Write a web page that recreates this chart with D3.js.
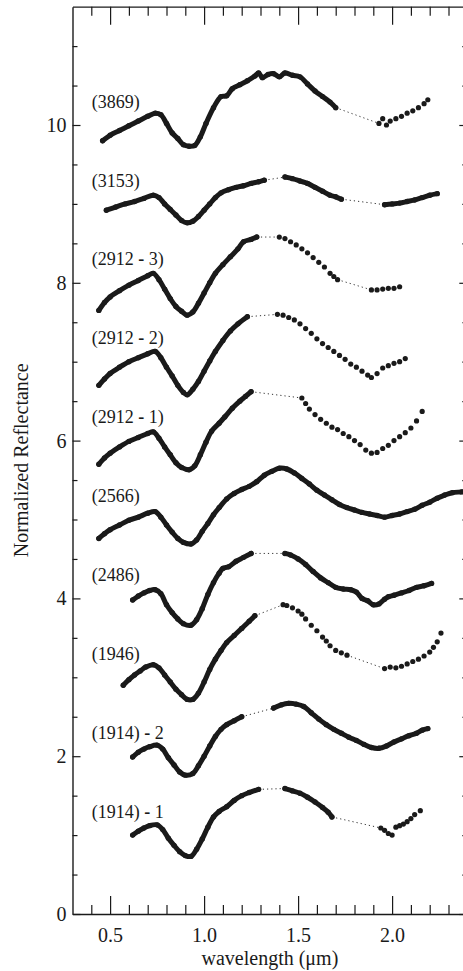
<!DOCTYPE html>
<html><head><meta charset="utf-8">
<script src="https://cdn.jsdelivr.net/npm/d3@7"></script>
<style>body{margin:0;background:#fff} svg{display:block}</style>
</head><body><svg id="c" width="463" height="971"></svg>
<script>
// ---- data ----
const seriesLabels = ["(3869)","(3153)","(2912 - 3)","(2912 - 2)","(2912 - 1)","(2566)","(2486)","(1946)","(1914) - 2","(1914) - 1"];
const offsets = [10,9,8,7,6,5,4,3,2,1];
const xMajorTicks = [0.5,1.0,1.5,2.0];
const xTickLabels = ["0.5","1.0","1.5","2.0"];
const yMajorTicks = [0,2,4,6,8,10];
const yTickLabels = ["0","2","4","6","8","10"];

const s3869 = [
 [[0.46,9.80],[0.50,9.87],[0.55,9.93],[0.60,9.99],[0.65,10.05],[0.70,10.11],[0.74,10.15],[0.77,10.13],[0.80,10.02],[0.83,9.90],[0.86,9.83],[0.89,9.75],[0.92,9.73],[0.95,9.74],[0.98,9.85],[1.01,10.02],[1.05,10.22],[1.09,10.36],[1.12,10.37],[1.15,10.46],[1.19,10.51],[1.23,10.56],[1.27,10.62],[1.29,10.66],[1.31,10.60],[1.34,10.64],[1.37,10.65],[1.40,10.61],[1.43,10.66],[1.47,10.63],[1.51,10.61],[1.55,10.52],[1.59,10.43],[1.63,10.36],[1.67,10.29],[1.70,10.22]],
 [[1.93,10.02],[1.95,10.08],[1.97,10.00],[1.99,10.05],[2.02,10.08],[2.05,10.11],[2.08,10.15],[2.11,10.18],[2.14,10.22],[2.17,10.27],[2.19,10.32]]
];
const s3153 = [
 [[0.48,8.92],[0.53,8.96],[0.58,9.00],[0.63,9.03],[0.68,9.07],[0.73,9.11],[0.76,9.08],[0.79,9.00],[0.82,8.93],[0.85,8.86],[0.88,8.79],[0.91,8.76],[0.94,8.78],[0.97,8.84],[1.00,8.92],[1.03,9.00],[1.06,9.08],[1.09,9.14],[1.13,9.18],[1.17,9.21],[1.21,9.23],[1.25,9.26],[1.29,9.28],[1.32,9.30]],
 [[1.43,9.34],[1.47,9.32],[1.51,9.29],[1.55,9.26],[1.59,9.21],[1.63,9.16],[1.67,9.11],[1.70,9.09],[1.73,9.06]],
 [[1.96,8.99],[2.00,9.00],[2.04,9.01],[2.08,9.03],[2.12,9.05],[2.16,9.08],[2.20,9.11],[2.24,9.13]]
];
const s2912_3 = [
 [[0.44,7.65],[0.47,7.75],[0.50,7.82],[0.55,7.90],[0.60,7.97],[0.65,8.03],[0.70,8.09],[0.73,8.12],[0.76,8.04],[0.79,7.92],[0.82,7.80],[0.85,7.70],[0.88,7.64],[0.91,7.59],[0.94,7.63],[0.97,7.74],[1.00,7.87],[1.03,8.00],[1.06,8.12],[1.10,8.23],[1.14,8.33],[1.18,8.43],[1.21,8.52],[1.25,8.55],[1.28,8.58]],
 [[1.40,8.58],[1.43,8.56],[1.46,8.52],[1.49,8.48],[1.52,8.43],[1.55,8.38],[1.58,8.32],[1.61,8.26],[1.64,8.20],[1.67,8.12],[1.69,8.08],[1.71,8.04]],
 [[1.89,7.91],[1.92,7.91],[1.95,7.92],[1.98,7.93],[2.01,7.93],[2.04,7.95]]
];
const s2912_2 = [
 [[0.44,6.70],[0.47,6.78],[0.50,6.85],[0.55,6.93],[0.60,7.00],[0.65,7.05],[0.70,7.10],[0.74,7.13],[0.77,7.05],[0.80,6.93],[0.83,6.82],[0.86,6.70],[0.89,6.61],[0.91,6.58],[0.94,6.65],[0.97,6.75],[1.00,6.88],[1.03,7.01],[1.06,7.13],[1.10,7.27],[1.14,7.39],[1.18,7.48],[1.23,7.57]],
 [[1.39,7.60],[1.42,7.59],[1.45,7.56],[1.48,7.53],[1.51,7.48],[1.54,7.42],[1.57,7.36],[1.60,7.29],[1.63,7.23],[1.66,7.18],[1.69,7.13],[1.72,7.08],[1.75,7.03],[1.78,6.97],[1.81,6.93],[1.84,6.88],[1.87,6.83],[1.89,6.80],[1.92,6.85],[1.95,6.92],[1.98,6.95],[2.01,6.98],[2.04,7.00],[2.07,7.04]]
];
const s2912_1 = [
 [[0.44,5.70],[0.47,5.78],[0.50,5.84],[0.55,5.92],[0.60,5.99],[0.65,6.04],[0.70,6.09],[0.73,6.11],[0.76,6.03],[0.79,5.92],[0.82,5.82],[0.85,5.72],[0.88,5.66],[0.92,5.63],[0.95,5.68],[0.98,5.82],[1.01,5.98],[1.04,6.12],[1.08,6.22],[1.11,6.30],[1.15,6.41],[1.19,6.50],[1.22,6.56],[1.25,6.62]],
 [[1.52,6.54],[1.54,6.47],[1.56,6.40],[1.59,6.33],[1.62,6.27],[1.65,6.22],[1.68,6.17],[1.71,6.14],[1.74,6.09],[1.77,6.05],[1.80,6.00],[1.83,5.95],[1.86,5.88],[1.89,5.84],[1.92,5.85],[1.95,5.90],[1.98,5.94],[2.01,6.00],[2.04,6.05],[2.07,6.10],[2.10,6.16],[2.13,6.25],[2.16,6.37]]
];
const s2566 = [
 [[0.44,4.76],[0.47,4.82],[0.50,4.87],[0.55,4.93],[0.60,4.99],[0.65,5.03],[0.70,5.08],[0.74,5.10],[0.77,5.03],[0.80,4.93],[0.83,4.84],[0.86,4.76],[0.89,4.71],[0.93,4.69],[0.96,4.74],[0.99,4.85],[1.02,4.95],[1.05,5.06],[1.08,5.15],[1.12,5.26],[1.16,5.33],[1.20,5.38],[1.24,5.42],[1.28,5.48],[1.32,5.56],[1.36,5.61],[1.40,5.65],[1.44,5.64],[1.48,5.59],[1.52,5.52],[1.56,5.45],[1.60,5.37],[1.64,5.31],[1.68,5.25],[1.72,5.19],[1.76,5.15],[1.80,5.12],[1.84,5.09],[1.88,5.07],[1.92,5.05],[1.96,5.03],[2.00,5.05],[2.04,5.07],[2.08,5.10],[2.12,5.13],[2.16,5.18],[2.20,5.22],[2.24,5.27],[2.28,5.31],[2.32,5.34],[2.37,5.35],[2.40,5.36]]
];
const s2486 = [
 [[0.62,3.98],[0.65,4.03],[0.68,4.07],[0.71,4.10],[0.74,4.11],[0.77,4.06],[0.80,3.92],[0.83,3.82],[0.86,3.74],[0.89,3.68],[0.93,3.66],[0.96,3.73],[0.99,3.87],[1.02,4.05],[1.05,4.20],[1.08,4.32],[1.10,4.38],[1.13,4.40],[1.17,4.47],[1.21,4.52],[1.25,4.57]],
 [[1.43,4.57],[1.46,4.55],[1.50,4.50],[1.54,4.43],[1.58,4.34],[1.62,4.26],[1.66,4.20],[1.70,4.14],[1.74,4.12],[1.78,4.11],[1.81,4.08],[1.84,4.00],[1.87,3.97],[1.90,3.92],[1.93,3.93],[1.96,3.99],[1.98,4.02],[2.01,4.04],[2.05,4.07],[2.09,4.10],[2.13,4.14],[2.17,4.16],[2.21,4.19]]
];
const s1946 = [
 [[0.57,2.90],[0.60,2.97],[0.63,3.03],[0.66,3.08],[0.69,3.13],[0.73,3.16],[0.76,3.12],[0.79,3.03],[0.82,2.94],[0.85,2.85],[0.88,2.78],[0.91,2.72],[0.94,2.72],[0.97,2.80],[1.00,2.94],[1.03,3.10],[1.06,3.23],[1.09,3.34],[1.12,3.44],[1.16,3.53],[1.20,3.62],[1.24,3.71],[1.27,3.78]],
 [[1.42,3.92],[1.44,3.91],[1.47,3.88],[1.50,3.84],[1.52,3.80],[1.54,3.74],[1.57,3.66],[1.60,3.59],[1.63,3.51],[1.65,3.46],[1.67,3.40],[1.70,3.34],[1.73,3.31],[1.76,3.28]],
 [[1.96,3.11],[1.99,3.13],[2.02,3.12],[2.05,3.14],[2.08,3.17],[2.11,3.20],[2.14,3.23],[2.17,3.27],[2.20,3.32],[2.22,3.38],[2.24,3.45],[2.26,3.56]]
];
const s1914_2 = [
 [[0.62,1.99],[0.65,2.05],[0.68,2.09],[0.71,2.12],[0.75,2.14],[0.78,2.09],[0.81,1.98],[0.84,1.89],[0.87,1.80],[0.90,1.76],[0.94,1.78],[0.97,1.88],[1.00,2.00],[1.03,2.13],[1.06,2.25],[1.09,2.34],[1.12,2.40],[1.16,2.45],[1.20,2.50]],
 [[1.37,2.61],[1.41,2.65],[1.45,2.67],[1.49,2.66],[1.53,2.63],[1.57,2.55],[1.61,2.47],[1.65,2.40],[1.69,2.34],[1.73,2.29],[1.77,2.24],[1.81,2.20],[1.85,2.15],[1.89,2.11],[1.93,2.10],[1.97,2.13],[2.01,2.18],[2.05,2.22],[2.09,2.26],[2.13,2.29],[2.16,2.33],[2.19,2.35]]
];
const s1914_1 = [
 [[0.62,1.00],[0.65,1.05],[0.68,1.09],[0.71,1.12],[0.75,1.13],[0.78,1.07],[0.81,0.96],[0.84,0.87],[0.87,0.79],[0.90,0.74],[0.93,0.73],[0.96,0.82],[0.99,0.95],[1.02,1.10],[1.05,1.23],[1.08,1.30],[1.12,1.36],[1.16,1.44],[1.20,1.50],[1.24,1.54],[1.29,1.58]],
 [[1.43,1.59],[1.47,1.56],[1.51,1.53],[1.55,1.48],[1.59,1.42],[1.63,1.35],[1.66,1.29],[1.68,1.23]],
 [[1.94,1.09],[1.96,1.06],[1.98,1.02],[2.00,1.00],[2.02,1.10],[2.04,1.12],[2.06,1.14],[2.08,1.17],[2.10,1.21],[2.12,1.26],[2.15,1.31]]
];
const allSeries = [s3869,s3153,s2912_3,s2912_2,s2912_1,s2566,s2486,s1946,s1914_2,s1914_1];
// segments drawn as separate dots only: [series index, segment index]
const dotOnlySegments = [[0,1],[2,1],[2,2],[3,1],[4,1],[7,1],[7,2],[9,2]];

// ---- chart ----
const svg = d3.select("#c");
const x = d3.scaleLinear().domain([0.3, 2.4]).range([72.5, 467.3]);
const y = d3.scaleLinear().domain([0, 11.5]).range([914, 6.65]);
const FONT = "'Liberation Serif','Times New Roman',serif";
const ink = "#1a1a1a";

const xMinor = d3.range(0.4, 2.35, 0.1).map(v => +v.toFixed(2)).filter(v => !xMajorTicks.some(m => Math.abs(m - v) < 1e-6));
const yMinor = d3.range(0.5, 11.25, 0.5).filter(v => !yMajorTicks.includes(v));

function styleAxis(g) {
  g.selectAll("path.domain").attr("stroke", ink).attr("stroke-width", 1.4);
  g.selectAll(".tick line").attr("stroke", ink).attr("stroke-width", 1.2);
}

// bottom
const gb = svg.append("g").attr("transform", `translate(0,${y(0)})`);
gb.call(d3.axisBottom(x).tickValues(xMajorTicks).tickSizeInner(-18).tickSizeOuter(0).tickPadding(14)
  .tickFormat((d, i) => xTickLabels[i]));
gb.append("g").call(d3.axisBottom(x).tickValues(xMinor).tickSizeInner(-9).tickSizeOuter(0).tickFormat(""))
  .select("path.domain").remove();
styleAxis(gb);
gb.selectAll("text").attr("font-family", FONT).attr("font-size", 20).attr("fill", ink);

// top
const gt = svg.append("g").attr("transform", `translate(0,${y(11.5)})`);
gt.call(d3.axisTop(x).tickValues(xMajorTicks).tickSizeInner(-18).tickSizeOuter(0).tickFormat(""));
gt.append("g").call(d3.axisTop(x).tickValues(xMinor).tickSizeInner(-9).tickSizeOuter(0).tickFormat(""))
  .select("path.domain").remove();
styleAxis(gt);

// left
const gl = svg.append("g").attr("transform", `translate(${x(0.3)},0)`);
gl.call(d3.axisLeft(y).tickValues(yMajorTicks).tickSizeInner(-8).tickSizeOuter(0).tickPadding(6)
  .tickFormat((d, i) => yTickLabels[i]));
gl.append("g").call(d3.axisLeft(y).tickValues(yMinor).tickSizeInner(-5).tickSizeOuter(0).tickFormat(""))
  .select("path.domain").remove();
styleAxis(gl);
gl.selectAll("text").attr("font-family", FONT).attr("font-size", 20).attr("fill", ink);

// right
const gr = svg.append("g").attr("transform", `translate(${x(2.4)},0)`);
gr.call(d3.axisRight(y).tickValues(yMajorTicks).tickSizeInner(-8).tickSizeOuter(0).tickFormat(""));
gr.append("g").call(d3.axisRight(y).tickValues(yMinor).tickSizeInner(-5).tickSizeOuter(0).tickFormat(""))
  .select("path.domain").remove();
styleAxis(gr);

// axis titles
svg.append("text").attr("x", (x(0.3) + x(2.4)) / 2).attr("y", 965).attr("text-anchor", "middle")
  .attr("font-family", FONT).attr("font-size", 20).attr("fill", ink).text("wavelength (\u03BCm)");
svg.append("text").attr("transform", `translate(28,${(y(0) + y(11.5)) / 2}) rotate(-90)`).attr("text-anchor", "middle")
  .attr("font-family", FONT).attr("font-size", 20).attr("fill", ink).text("Normalized Reflectance");

// series
const line = d3.line().x(d => x(d[0])).y(d => y(d[1])).curve(d3.curveCatmullRom.alpha(0.5));
const plot = svg.append("g");
allSeries.forEach((segs, i) => {
  const g = plot.append("g");
  for (let k = 1; k < segs.length; k++) {
    const a = segs[k - 1][segs[k - 1].length - 1], b = segs[k][0];
    g.append("path").attr("d", d3.line().x(d => x(d[0])).y(d => y(d[1]))([a, b]))
      .attr("fill", "none").attr("stroke", "#333").attr("stroke-width", 1).attr("stroke-dasharray", "1.2,3");
  }
  segs.forEach((seg, k) => {
    const dotOnly = dotOnlySegments.some(p => p[0] === i && p[1] === k);
    if (!dotOnly) {
      g.append("path").attr("d", line(seg)).attr("fill", "none").attr("stroke", ink)
        .attr("stroke-width", 5).attr("stroke-linecap", "round").attr("stroke-linejoin", "round");
    }
    g.append("g").selectAll("circle").data(seg).join("circle")
      .attr("cx", d => x(d[0])).attr("cy", d => y(d[1])).attr("r", dotOnly ? 2.6 : 2.7).attr("fill", ink);
  });
  // label
  const t = g.append("text").attr("x", x(0.403)).attr("y", y(offsets[i] + 0.22))
    .attr("font-family", FONT).attr("font-size", 18).attr("fill", ink);
  const parts = seriesLabels[i].split(" - ");
  if (parts.length === 2) {
    t.append("tspan").text(parts[0] + " ");
    t.append("tspan").attr("font-weight", "bold").text("-");
    t.append("tspan").text(" " + parts[1]);
  } else t.text(seriesLabels[i]);
});
</script></body></html>
